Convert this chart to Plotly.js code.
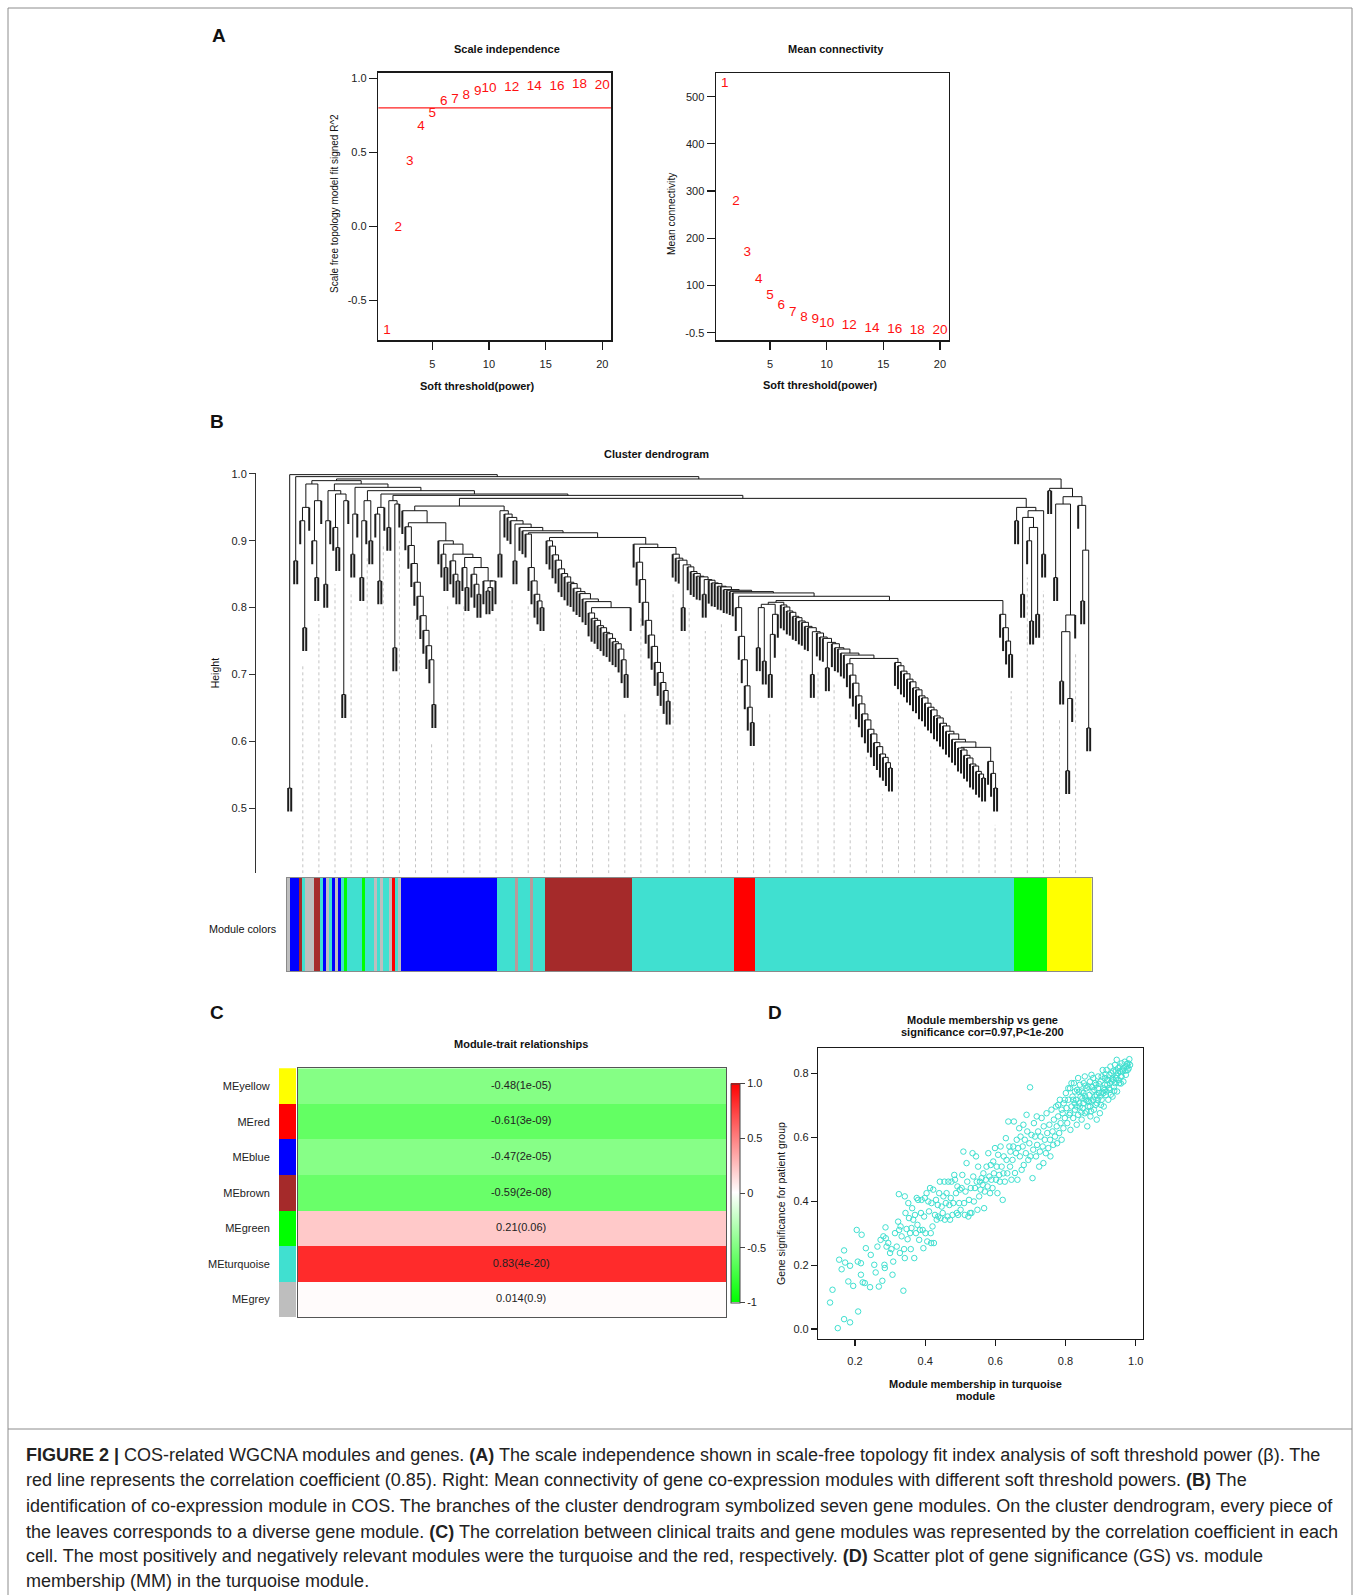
<!DOCTYPE html>
<html><head><meta charset="utf-8">
<script src="https://cdn.plot.ly/plotly-3.0.1.min.js"></script>
<style>html,body{margin:0;padding:0;background:#fff;}#chart{width:1360px;height:1595px;}</style>
</head><body><div id="chart"></div>
<script>
// ===================== DATA =====================
// Panel A: soft-threshold analysis
const powers = [1,2,3,4,5,6,7,8,9,10,12,14,16,18,20];
const scaleFitR2 = [-0.707,-0.007,0.437,0.671,0.761,0.840,0.853,0.885,0.912,0.930,0.939,0.943,0.943,0.959,0.948];
const meanConnectivity = [528,278,170,112,78,57,43,33,27,20,14,9,7,5,4];
const r2Cutoff = 0.80;
const r2TickVals = [-0.5,0,0.5,1];
const r2TickText = ['-0.5','0.0','0.5','1.0'];
const connTickVals = [0,100,200,300,400,500];
const connTickText = ['-0.5','100','200','300','400','500'];
const powerTicks = [5,10,15,20];

// Panel B: dendrogram, as merge heights between neighbouring leaves (leaf order left to right)
const mixedGaps = [0.53,0.999,0.87,0.996,0.93,0.77,0.95,0.985,0.90,0.845,0.96,0.99,0.835,0.93,0.975,0.92,0.89,0.97,0.67,0.96,0.985,0.88,0.94,0.98,0.845,0.93,0.96,0.90,0.975,0.94,0.84,0.95,0.97,0.92,0.96,0.74,0.955];
const blueGaps = [0.945,0.921,0.893,0.866,0.838,0.817,0.788,0.766,0.743,0.722,0.655,0.927,0.90,0.88,0.86,0.895,0.87,0.85,0.84,0.88,0.86,0.83,0.875,0.85,0.835,0.82,0.86,0.84,0.825,0.83,0.84];
const turquoise1Gaps = [0.88,0.945,0.94,0.935,0.93,0.87,0.925,0.92,0.915,0.91,0.86,0.84,0.82,0.81,0.80];
const brownGaps = [0.90,0.892,0.879,0.871,0.858,0.851,0.846,0.838,0.836,0.829,0.824,0.821,0.813,0.809,0.792,0.784,0.781,0.773,0.77,0.763,0.761,0.754,0.749,0.746,0.738,0.722,0.70,0.80];
const turquoise2Gaps = [0.895,0.868,0.842,0.808,0.781,0.759,0.742,0.718,0.703,0.688,0.676,0.66,0.89,0.88,0.874,0.871,0.80,0.864,0.861,0.854,0.851,0.847,0.846,0.82,0.842,0.841,0.837,0.836,0.832,0.831,0.827,0.826,0.824];
const redGaps = [0.80,0.757,0.722,0.683,0.651,0.628];
const turquoise3Gaps = [0.74,0.80,0.72,0.805,0.70,0.76,0.79,0.808,
  0.804,0.801,0.795,0.793,0.787,0.785,0.780,0.778,0.772,0.770,0.70,0.764,0.762,0.756,0.754,0.71,0.748,0.746,0.740,0.738,0.732,0.729,
  0.716,0.699,0.687,0.668,0.656,0.641,0.632,0.618,0.611,0.598,0.592,0.581,0.576,0.568,0.56,0.724,
  0.718,0.713,0.705,0.701,0.693,0.689,0.680,0.677,0.668,0.665,0.657,0.651,0.647,0.638,0.635,0.627,0.623,0.615,0.611,0.603,
  0.599,0.590,0.587,0.579,0.575,0.566,0.563,0.555,0.551,0.545,0.591,0.57,0.552,0.53,0.8106,0.79,0.77,0.75,0.73];
const greenGaps = [0.93,0.95,0.82,0.935,0.90,0.78,0.92,0.79,0.945,0.88];
const yellowGaps = [0.975,0.9785,0.845,0.955,0.69,0.764,0.556,0.664,0.789,0.966,0.953,0.81,0.886,0.62];
const moduleJoinHeights = [0.968,0.952,0.912,0.905,0.822,0.817,0.9635,0.9925];
const heightTicks = [0.5,0.6,0.7,0.8,0.9,1.0];
const heightTickText = ['0.5','0.6','0.7','0.8','0.9','1.0'];

// Module colour strip under the dendrogram (one entry per leaf, then runs)
const mixedStripColors = ['grey','blue','blue','blue','brown','turquoise','grey','grey','grey','brown','brown','turquoise','blue','grey','turquoise','blue','grey','blue','turquoise','green','turquoise','turquoise','turquoise','turquoise','turquoise','green','turquoise','turquoise','turquoise','grey','turquoise','grey','turquoise','turquoise','grey','red','turquoise','grey'];
const moduleRuns = [['blue',32],['turquoise',6],['greyline',1],['turquoise',4],['greyline',1],['turquoise',4],['brown',29],['turquoise',34],['red',7],['turquoise',86],['green',11],['yellow',15]];
const wgcnaColors = {turquoise:'#40E0D0', blue:'#0000FF', brown:'#A52A2A', yellow:'#FFFF00', green:'#00FF00', red:'#FF0000', grey:'#BEBEBE', greyline:'#b99a9a'};

// Panel C: module-trait relationships
const moduleNames = ['MEyellow','MEred','MEblue','MEbrown','MEgreen','MEturquoise','MEgrey'];
const moduleColors = ['#FFFF00','#FF0000','#0000FF','#A52A2A','#00FF00','#40E0D0','#BEBEBE'];
const moduleTraitCor = [-0.48,-0.61,-0.47,-0.59,0.21,0.83,0.014];
const moduleTraitP = ['1e-05','3e-09','2e-05','2e-08','0.06','4e-20','0.9'];
const corBarTicks = [-1,-0.5,0,0.5,1];
const corBarText = ['-1','-0.5','0','0.5','1.0'];

// Panel D: module membership (MM) vs gene significance (GS), turquoise module
const turquoiseGenes = [
[0.129,0.083],[0.136,0.123],[0.151,0.003],[0.155,0.217],[0.162,0.187],[0.169,0.246],[0.169,0.031],[0.172,0.208],[0.181,0.149],[0.186,0.198],
[0.186,0.021],[0.195,0.135],[0.205,0.310],[0.208,0.211],[0.209,0.055],[0.217,0.206],[0.217,0.170],[0.219,0.295],[0.222,0.146],[0.228,0.144],
[0.231,0.253],[0.243,0.131],[0.245,0.232],[0.255,0.201],[0.259,0.177],[0.264,0.258],[0.268,0.133],[0.273,0.279],[0.278,0.151],[0.281,0.290],
[0.284,0.201],[0.285,0.191],[0.287,0.318],[0.288,0.284],[0.290,0.258],[0.295,0.269],[0.300,0.238],[0.304,0.250],[0.307,0.170],[0.309,0.211],
[0.314,0.300],[0.319,0.258],[0.323,0.336],[0.325,0.422],[0.326,0.310],[0.328,0.238],[0.330,0.321],[0.333,0.290],[0.338,0.120],[0.340,0.250],
[0.342,0.415],[0.342,0.222],[0.344,0.363],[0.347,0.313],[0.350,0.281],[0.352,0.394],[0.354,0.347],[0.357,0.300],[0.359,0.250],[0.361,0.316],
[0.363,0.378],[0.366,0.342],[0.369,0.222],[0.371,0.357],[0.374,0.300],[0.376,0.410],[0.378,0.326],[0.380,0.404],[0.383,0.279],[0.385,0.310],
[0.388,0.363],[0.390,0.404],[0.393,0.310],[0.395,0.253],[0.397,0.352],[0.399,0.410],[0.401,0.300],[0.404,0.425],[0.406,0.274],[0.409,0.399],
[0.411,0.368],[0.414,0.441],[0.416,0.300],[0.417,0.269],[0.418,0.394],[0.421,0.321],[0.423,0.436],[0.425,0.269],[0.428,0.357],[0.431,0.404],
[0.433,0.342],[0.436,0.388],[0.437,0.352],[0.440,0.425],[0.442,0.461],[0.444,0.347],[0.447,0.383],[0.450,0.363],[0.452,0.415],[0.455,0.461],
[0.456,0.342],[0.459,0.394],[0.461,0.425],[0.464,0.352],[0.466,0.461],[0.469,0.388],[0.471,0.342],[0.473,0.410],[0.475,0.461],[0.478,0.357],
[0.480,0.394],[0.483,0.482],[0.485,0.467],[0.488,0.425],[0.490,0.363],[0.492,0.446],[0.494,0.357],[0.497,0.394],[0.499,0.436],[0.501,0.373],
[0.504,0.441],[0.506,0.482],[0.509,0.555],[0.511,0.394],[0.513,0.357],[0.515,0.430],[0.518,0.519],[0.520,0.461],[0.523,0.352],[0.525,0.404],
[0.528,0.363],[0.530,0.441],[0.532,0.363],[0.535,0.550],[0.537,0.477],[0.539,0.399],[0.542,0.441],[0.545,0.540],[0.547,0.461],[0.549,0.373],
[0.551,0.508],[0.554,0.415],[0.556,0.461],[0.558,0.436],[0.561,0.472],[0.564,0.451],[0.566,0.487],[0.568,0.378],[0.570,0.430],[0.573,0.467],
[0.575,0.508],[0.578,0.446],[0.580,0.550],[0.583,0.477],[0.585,0.425],[0.587,0.513],[0.589,0.467],[0.592,0.441],[0.594,0.524],[0.596,0.487],
[0.599,0.566],[0.602,0.467],[0.604,0.508],[0.606,0.425],[0.608,0.545],[0.611,0.482],[0.613,0.461],[0.615,0.571],[0.618,0.508],[0.621,0.404],
[0.623,0.487],[0.624,0.540],[0.627,0.461],[0.630,0.597],[0.632,0.529],[0.634,0.487],[0.637,0.649],[0.640,0.571],[0.642,0.508],[0.643,0.555],
[0.646,0.467],[0.649,0.529],[0.651,0.571],[0.653,0.649],[0.656,0.488],[0.659,0.550],[0.661,0.592],[0.663,0.467],[0.665,0.566],[0.668,0.628],
[0.670,0.540],[0.672,0.602],[0.675,0.498],[0.678,0.571],[0.680,0.639],[0.681,0.513],[0.684,0.592],[0.687,0.550],[0.689,0.670],[0.691,0.618],
[0.694,0.529],[0.697,0.581],[0.699,0.756],[0.700,0.540],[0.703,0.607],[0.706,0.472],[0.708,0.561],[0.710,0.644],[0.713,0.602],[0.716,0.540],
[0.718,0.665],[0.719,0.576],[0.722,0.618],[0.725,0.508],[0.727,0.555],[0.729,0.602],[0.732,0.660],[0.735,0.571],[0.737,0.519],[0.738,0.634],
[0.741,0.592],[0.744,0.550],[0.746,0.675],[0.748,0.613],[0.751,0.566],[0.754,0.639],[0.756,0.592],[0.757,0.540],[0.760,0.686],[0.763,0.618],
[0.765,0.576],[0.767,0.655],[0.770,0.602],[0.773,0.696],[0.775,0.634],[0.776,0.581],[0.779,0.665],[0.782,0.613],[0.784,0.717],[0.786,0.644],
[0.789,0.592],[0.792,0.675],[0.794,0.628],[0.795,0.706],[0.798,0.660],[0.801,0.738],[0.803,0.691],[0.805,0.644],[0.808,0.717],[0.811,0.670],
[0.813,0.753],[0.814,0.623],[0.817,0.696],[0.820,0.727],[0.822,0.660],[0.824,0.769],[0.827,0.686],[0.830,0.717],[0.832,0.639],[0.833,0.748],
[0.836,0.670],[0.839,0.706],[0.841,0.764],[0.843,0.727],[0.846,0.655],[0.849,0.691],[0.851,0.738],[0.852,0.769],[0.855,0.675],[0.858,0.717],
[0.860,0.753],[0.862,0.634],[0.865,0.696],[0.868,0.732],[0.870,0.774],[0.871,0.665],[0.874,0.712],[0.877,0.743],[0.879,0.785],[0.881,0.686],
[0.884,0.727],[0.887,0.764],[0.889,0.655],[0.890,0.706],[0.893,0.790],[0.896,0.738],[0.898,0.675],[0.900,0.774],[0.903,0.717],[0.906,0.810],
[0.908,0.753],[0.909,0.696],[0.912,0.785],[0.915,0.732],[0.917,0.810],[0.919,0.764],[0.922,0.717],[0.925,0.795],[0.927,0.748],[0.928,0.821],
[0.931,0.774],[0.934,0.727],[0.936,0.806],[0.938,0.758],[0.941,0.826],[0.944,0.785],[0.946,0.842],[0.947,0.743],[0.950,0.800],[0.953,0.769],
[0.955,0.821],[0.957,0.790],[0.960,0.831],[0.963,0.806],[0.965,0.774],[0.966,0.816],[0.969,0.836],[0.972,0.795],[0.974,0.821],[0.977,0.810],
[0.979,0.831],[0.982,0.844],[0.984,0.826],[0.808,0.753],[0.817,0.769],[0.827,0.743],[0.836,0.785],[0.846,0.743],[0.855,0.790],[0.865,0.758],
[0.874,0.795],[0.884,0.769],[0.893,0.753],[0.903,0.790],[0.912,0.764],[0.922,0.779],[0.931,0.800],[0.941,0.769],[0.950,0.816],[0.960,0.790],
[0.841,0.696],[0.851,0.706],[0.860,0.680],[0.870,0.696],[0.879,0.717],[0.889,0.732],[0.898,0.727],[0.908,0.738],[0.822,0.717],[0.832,0.696],
[0.813,0.675],[0.798,0.717],[0.789,0.686],[0.779,0.701],[0.917,0.743],[0.927,0.769],[0.936,0.779],[0.946,0.795],[0.955,0.806],
[0.838,0.742],[0.848,0.722],[0.857,0.761],[0.867,0.712],[0.876,0.757],[0.886,0.701],[0.895,0.767],[0.905,0.742],[0.914,0.797],[0.924,0.753],
[0.933,0.783],[0.943,0.806],[0.952,0.778],[0.962,0.812],[0.971,0.808],[0.980,0.815],[0.826,0.706],[0.845,0.678],[0.863,0.713],[0.882,0.748],
[0.901,0.701],[0.918,0.778],[0.939,0.745],[0.958,0.768],[0.975,0.829],[0.856,0.728],[0.873,0.681],[0.892,0.717],[0.911,0.748],[0.929,0.733]
];
const mmTicks = [0.2,0.4,0.6,0.8,1.0];
const mmTickText = ['0.2','0.4','0.6','0.8','1.0'];
const gsTicks = [0,0.2,0.4,0.6,0.8];
const gsTickText = ['0.0','0.2','0.4','0.6','0.8'];

// Caption
const captionLines = [
 '<b>FIGURE 2 |</b> COS-related WGCNA modules and genes. <b>(A)</b> The scale independence shown in scale-free topology fit index analysis of soft threshold power (β). The',
 'red line represents the correlation coefficient (0.85). Right: Mean connectivity of gene co-expression modules with different soft threshold powers. <b>(B)</b> The',
 'identification of co-expression module in COS. The branches of the cluster dendrogram symbolized seven gene modules. On the cluster dendrogram, every piece of',
 'the leaves corresponds to a diverse gene module. <b>(C)</b> The correlation between clinical traits and gene modules was represented by the correlation coefficient in each',
 'cell. The most positively and negatively relevant modules were the turquoise and the red, respectively. <b>(D)</b> Scatter plot of gene significance (GS) vs. module',
 'membership (MM) in the turquoise module.'
];

// ===================== HELPERS =====================
const FONT = 'Arial, "Liberation Sans", Helvetica, sans-serif';
const CAPFONT = '"Liberation Sans", Arial, sans-serif';
const W = 1360, H = 1595;
const fx = x => x / W;
const fy = y => 1 - y / H;
const domX = (a, b) => [a / W, b / W];
const domY = (top, bottom) => [1 - bottom / H, 1 - top / H];
const ann = (text, x, y, size, extra) => Object.assign({
  text, x: fx(x), y: fy(y), xref: 'paper', yref: 'paper', showarrow: false,
  xanchor: 'center', yanchor: 'middle', font: {family: FONT, size, color: '#111'}
}, extra || {});

// Build the dendrogram segments from neighbouring merge heights
const allGaps = [].concat(mixedGaps, [moduleJoinHeights[0]], blueGaps, [moduleJoinHeights[1]], turquoise1Gaps, [moduleJoinHeights[2]],
  brownGaps, [moduleJoinHeights[3]], turquoise2Gaps, [moduleJoinHeights[4]], redGaps, [moduleJoinHeights[5]],
  turquoise3Gaps, [moduleJoinHeights[6]], greenGaps, [moduleJoinHeights[7]], yellowGaps);
const HANG = 0.035, GUIDE_HANG = 0.02, DENDRO_BOTTOM = 0.4025;
function buildDendro(gaps) {
  const n = gaps.length + 1, xs = [], ys = [], lx = [], ly = [], leafBottom = new Array(n);
  function rec(lo, hi) {
    if (lo === hi) return {x: lo + 1, h: null, leaf: lo};
    let k = lo;
    for (let i = lo; i < hi; i++) if (gaps[i] > gaps[k]) k = i;
    const h = gaps[k];
    const L = rec(lo, k), R = rec(k + 1, hi);
    [L, R].forEach(c => {
      if (c.h === null) {
        leafBottom[c.leaf] = h - HANG;
        lx.push(c.x, c.x, null); ly.push(h, h - HANG, null);
      } else {
        xs.push(c.x, c.x, null); ys.push(h, c.h, null);
      }
    });
    xs.push(L.x, R.x, null); ys.push(h, h, null);
    return {x: (L.x + R.x) / 2, h};
  }
  rec(0, n - 1);
  return {xs, ys, lx, ly, leafBottom, n};
}
const dendro = buildDendro(allGaps);
const N = dendro.n;

// guide lines
const gx = [], gy = [];
for (let k = 1; k < 50; k++) {
  const p = 0.5 + N * k / 50;
  const leaf = Math.min(N, Math.max(1, Math.round(p)));
  gx.push(p, p, null);
  gy.push(DENDRO_BOTTOM, dendro.leafBottom[leaf - 1] - GUIDE_HANG, null);
}

// colour strip bars
const stripRuns = mixedStripColors.map(c => [c, 1]).concat(moduleRuns);
const stripX = [], stripW = [], stripC = [];
let start = 1;
stripRuns.forEach(([c, cnt]) => {
  stripX.push(start + (cnt - 1) / 2); stripW.push(cnt); stripC.push(wgcnaColors[c]); start += cnt;
});

// ===================== TRACES =====================
const traces = [];
traces.push({type: 'scatter', mode: 'text', x: powers, y: scaleFitR2, text: powers.map(String),
  textfont: {family: FONT, size: 13.5, color: '#ff1010'}, xaxis: 'x', yaxis: 'y', cliponaxis: false, hoverinfo: 'skip'});
traces.push({type: 'scatter', mode: 'text', x: powers, y: meanConnectivity, text: powers.map(String),
  textfont: {family: FONT, size: 13.5, color: '#ff1010'}, xaxis: 'x2', yaxis: 'y2', cliponaxis: false, hoverinfo: 'skip'});
traces.push({type: 'scatter', mode: 'lines', x: gx, y: gy, line: {color: '#c4c4c4', width: 1, dash: 'dot'},
  xaxis: 'x3', yaxis: 'y3', hoverinfo: 'skip', connectgaps: false});
traces.push({type: 'scatter', mode: 'lines', x: dendro.xs, y: dendro.ys, line: {color: '#151515', width: 1},
  xaxis: 'x3', yaxis: 'y3', hoverinfo: 'skip', connectgaps: false});
traces.push({type: 'scatter', mode: 'lines', x: dendro.lx, y: dendro.ly, line: {color: '#1c1c1c', width: 2},
  xaxis: 'x3', yaxis: 'y3', hoverinfo: 'skip', connectgaps: false});
traces.push({type: 'bar', x: stripX, y: stripX.map(() => 1), width: stripW, base: 0,
  marker: {color: stripC, line: {width: 0}}, xaxis: 'x4', yaxis: 'y4', hoverinfo: 'skip'});
const rowIdx = moduleNames.map((_, i) => i);
traces.push({type: 'heatmap', z: moduleTraitCor.map(v => [v]), x: [0], y: rowIdx, zmin: -1, zmax: 1,
  colorscale: [[0, '#00FF00'], [0.5, '#FFFFFF'], [1, '#FF0000']], xaxis: 'x5', yaxis: 'y5', hoverinfo: 'skip',
  colorbar: {thickness: 8.5, thicknessmode: 'pixels', len: 219.4, lenmode: 'pixels', x: fx(730.9), xanchor: 'left',
    y: fy(1193), yanchor: 'middle', xpad: 0, ypad: 0, outlinewidth: 1, outlinecolor: '#444', ticks: 'outside', ticklen: 5,
    tickcolor: '#444', tickvals: corBarTicks, ticktext: corBarText, tickfont: {family: FONT, size: 11, color: '#222'}}});
traces.push({type: 'scatter', mode: 'text', x: rowIdx.map(() => 0.021), y: rowIdx,
  text: moduleTraitCor.map((v, i) => v + '(' + moduleTraitP[i] + ')'),
  textfont: {family: FONT, size: 11, color: '#222'}, xaxis: 'x5', yaxis: 'y5', hoverinfo: 'skip'});
traces.push({type: 'bar', orientation: 'h', x: rowIdx.map(() => 1), y: rowIdx, width: 1, base: 0,
  marker: {color: moduleColors, line: {width: 0}}, xaxis: 'x6', yaxis: 'y6', hoverinfo: 'skip'});
traces.push({type: 'scatter', mode: 'markers', x: turquoiseGenes.map(p => p[0]), y: turquoiseGenes.map(p => p[1]),
  marker: {symbol: 'circle-open', size: 5.5, color: '#40E0D0', line: {width: 1, color: '#40E0D0'}},
  xaxis: 'x7', yaxis: 'y7', hoverinfo: 'skip'});

// ===================== LAYOUT =====================
const boxAxis = {showline: true, mirror: true, linecolor: '#1a1a1a', linewidth: 1.6, ticks: 'outside', ticklen: 8,
  tickwidth: 1.2, tickcolor: '#1a1a1a', showgrid: false, zeroline: false, fixedrange: true,
  tickfont: {family: FONT, size: 11, color: '#222'}};
const hidden = {visible: false, showgrid: false, zeroline: false, fixedrange: true};

const layout = {
  width: W, height: H, margin: {l: 0, r: 0, t: 0, b: 0}, showlegend: false,
  paper_bgcolor: '#fff', plot_bgcolor: 'rgba(0,0,0,0)', font: {family: FONT, color: '#222'},
  bargap: 0,
  xaxis: Object.assign({}, boxAxis, {domain: domX(378.4, 610.9), range: [0.24, 20.76], tickvals: powerTicks, anchor: 'y', ticklabelstandoff: 5}),
  yaxis: Object.assign({}, boxAxis, {domain: domY(72.7, 340), range: [-0.768, 1.038], tickvals: r2TickVals, ticktext: r2TickText, anchor: 'x'}),
  xaxis2: Object.assign({}, boxAxis, {domain: domX(716.1, 948.6), range: [0.24, 20.76], tickvals: powerTicks, anchor: 'y2', ticklabelstandoff: 5}),
  yaxis2: Object.assign({}, boxAxis, {domain: domY(73.3, 340), range: [-15.4, 549.5], tickvals: connTickVals, ticktext: connTickText, anchor: 'x2'}),
  xaxis3: Object.assign({}, hidden, {domain: domX(286.7, 1091.7), range: [0.5, N + 0.5], anchor: 'y3'}),
  yaxis3: {domain: domY(473.3, 873.3), range: [DENDRO_BOTTOM, 1.001], anchor: 'free', position: fx(255),
    showline: true, linecolor: '#333', linewidth: 1, ticks: 'outside', ticklen: 6, tickcolor: '#333',
    tickvals: heightTicks, ticktext: heightTickText, showgrid: false, zeroline: false, fixedrange: true,
    tickfont: {family: FONT, size: 11, color: '#222'}},
  xaxis4: {domain: domX(286.7, 1091.7), range: [0.5, N + 0.5], anchor: 'y4', showline: true, mirror: true, linecolor: '#8a8a8a',
    linewidth: 1, showticklabels: false, ticks: '', showgrid: false, zeroline: false, fixedrange: true},
  yaxis4: {domain: domY(877.5, 971), range: [0, 1], anchor: 'x4', showline: true, mirror: true, linecolor: '#8a8a8a',
    linewidth: 1, showticklabels: false, ticks: '', showgrid: false, zeroline: false, fixedrange: true},
  xaxis5: {domain: domX(298, 726.4), range: [-0.5, 0.5], anchor: 'y5', showline: true, mirror: true, linecolor: '#555',
    linewidth: 1, showticklabels: false, ticks: '', showgrid: false, zeroline: false, fixedrange: true},
  yaxis5: {domain: domY(1068.3, 1317.3), range: [6.5, -0.5], anchor: 'x5', showline: true, mirror: true, linecolor: '#555',
    linewidth: 1, showticklabels: false, ticks: '', showgrid: false, zeroline: false, fixedrange: true},
  xaxis6: Object.assign({}, hidden, {domain: domX(278.8, 296.2), range: [0, 1], anchor: 'y6'}),
  yaxis6: {domain: domY(1068.3, 1317.3), range: [6.5, -0.5], anchor: 'x6', tickvals: rowIdx, ticktext: moduleNames,
    ticks: '', showline: false, showgrid: false, zeroline: false, fixedrange: true, ticklabelstandoff: 8,
    tickfont: {family: FONT, size: 11, color: '#222'}},
  xaxis7: Object.assign({}, boxAxis, {domain: domX(818.3, 1142.7), range: [0.0955, 1.02], tickvals: mmTicks, ticktext: mmTickText,
    anchor: 'y7', ticklen: 6, linewidth: 1.4, ticklabelstandoff: 5}),
  yaxis7: Object.assign({}, boxAxis, {domain: domY(1048.3, 1339), range: [-0.031, 0.878], tickvals: gsTicks, ticktext: gsTickText,
    anchor: 'x7', ticklen: 6, linewidth: 1.4}),
  shapes: [
    {type: 'line', xref: 'x domain', x0: 0, x1: 1, yref: 'y', y0: r2Cutoff, y1: r2Cutoff, line: {color: '#ff2020', width: 1.3}},
    {type: 'rect', xref: 'paper', yref: 'paper', x0: fx(8), x1: fx(1352), y0: fy(1600), y1: fy(8), line: {color: '#8c8c8c', width: 1}},
    {type: 'line', xref: 'paper', yref: 'paper', x0: fx(8), x1: fx(1352), y0: fy(1429), y1: fy(1429), line: {color: '#8c8c8c', width: 1}}
  ],
  annotations: [
    ann('<b>A</b>', 218.6, 35.6, 19), ann('<b>B</b>', 217, 421, 19), ann('<b>C</b>', 217.5, 1012.5, 19), ann('<b>D</b>', 775, 1012, 19),
    ann('<b>Scale independence</b>', 506.7, 49, 11),
    ann('<b>Mean connectivity</b>', 835.7, 49, 11),
    ann('<b>Soft threshold(power)</b>', 478, 386, 11),
    ann('<b>Soft threshold(power)</b>', 820, 385, 11),
    ann('Scale free topology model fit signed R^2', 334, 204, 10, {textangle: -90}),
    ann('Mean connectivity', 671.7, 213.3, 10.3, {textangle: -90}),
    ann('<b>Cluster dendrogram</b>', 656.5, 454.3, 11),
    ann('Height', 215.3, 673, 10.5, {textangle: -90}),
    ann('Module colors', 242.5, 929, 10.8),
    ann('<b>Module-trait relationships</b>', 520.8, 1044.3, 11),
    ann('<b>Module membership vs gene</b>', 982.3, 1020, 11),
    ann('<b>significance cor=0.97,P&lt;1e-200</b>', 982.3, 1032.3, 11),
    ann('<b>Module membership in turquoise</b>', 975, 1384.3, 11),
    ann('<b>module</b>', 975, 1396, 11),
    ann('Gene significance for patient group', 781.7, 1203.3, 10.5, {textangle: -90})
  ].concat(captionLines.map((t, i) => ann(t, 24, [1454.6, 1480, 1505.6, 1531.5, 1556.3, 1580.5][i], 18,
    {xanchor: 'left', font: {family: CAPFONT, size: 18, color: '#222'}})))
};

Plotly.newPlot('chart', traces, layout, {displayModeBar: false, staticPlot: true});
</script>
</body></html>
